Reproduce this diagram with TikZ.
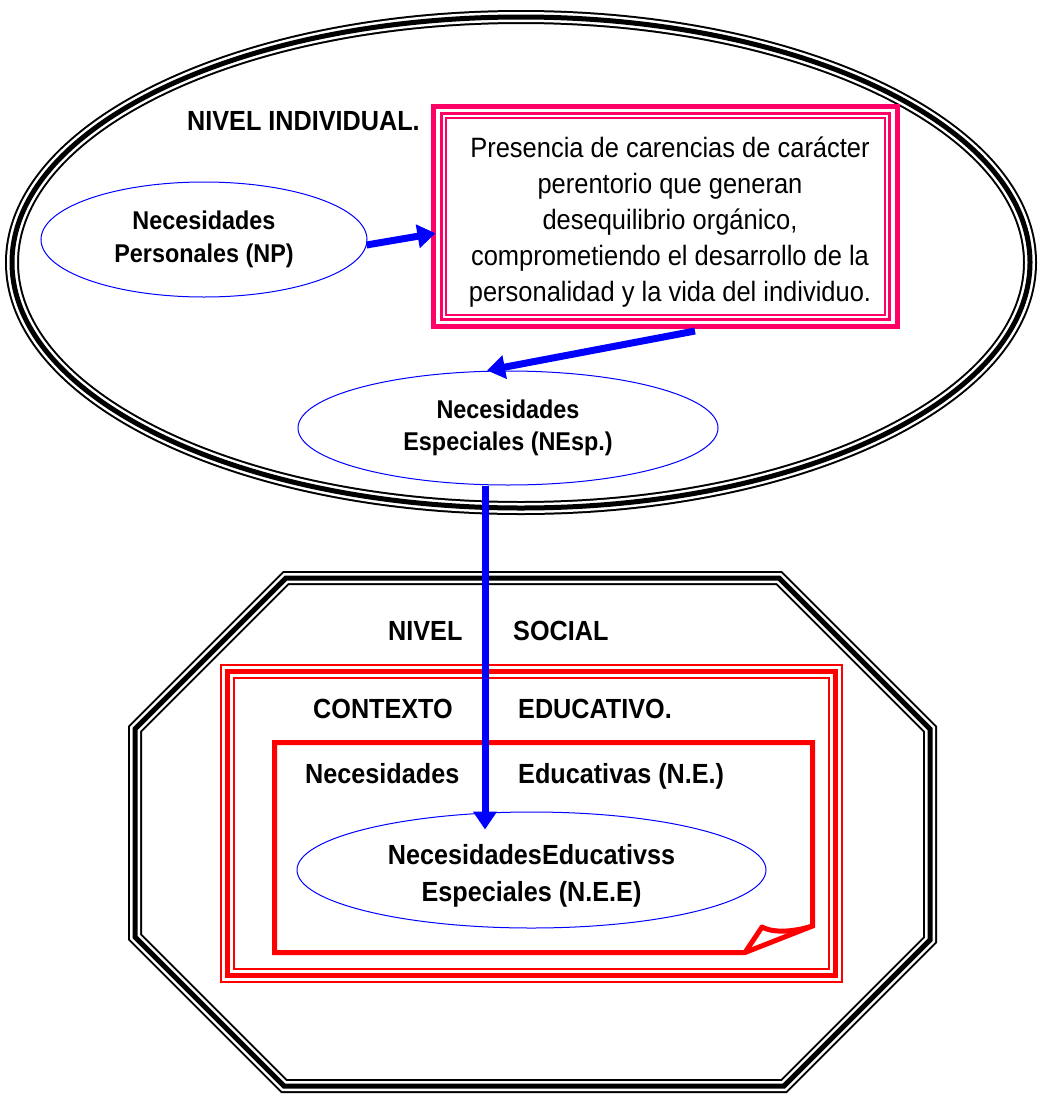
\documentclass[tikz,border=0pt]{standalone}
\usepackage{fontspec}
\setmainfont{Liberation Sans}[FakeStretch=0.91]
\usetikzlibrary{shapes.geometric,arrows.meta}
\definecolor{mag}{RGB}{255,0,102}
\definecolor{nblue}{RGB}{0,0,255}
\definecolor{nred}{RGB}{255,0,0}
\begin{document}
\begin{tikzpicture}[x=1pt,y=-1pt,
  tripleblack/.style={draw=black,line width=14pt,line join=miter,
    postaction={draw=white,line width=10pt},
    postaction={draw=black,line width=5pt}},
  triplered/.style={draw=nred,line width=15pt,line join=miter,
    postaction={draw=white,line width=11pt},
    postaction={draw=nred,line width=5.5pt}},
  blueell/.style={ellipse,draw=nblue,line width=1pt,align=center,inner sep=0pt},
  lbl/.style={inner sep=0pt,anchor=base west,font=\bfseries\fontsize{27.7}{33}\selectfont},
  arr/.style={draw=nblue,line width=7pt,-{Triangle[length=18pt,width=23pt]}}]
\useasboundingbox (0,0) rectangle (1037,1095);
% big ellipse (individual level)
\node[ellipse,tripleblack,minimum width=1018pt,minimum height=491pt,inner sep=0pt] (indiv) at (521,262.5) {};
% octagon (social level)
\draw[tripleblack] (286,578) -- (779,578) -- (930,729) -- (930,940) -- (784,1086) -- (284,1086) -- (135,937) -- (135,729) -- cycle;
% magenta box
\node[draw=mag,line width=5pt,minimum width=464pt,minimum height=219.5pt,inner sep=0pt,outer sep=0pt] (box) at (665.5,216.25) {};
\draw[mag,line width=3pt] ([shift={(8pt,-6.5pt)}]box.north west) rectangle ([shift={(-8pt,7pt)}]box.south east);
\draw[mag,line width=2pt] ([shift={(12.5pt,-11.5pt)}]box.north west) rectangle ([shift={(-12.5pt,11.5pt)}]box.south east);
\node[inner sep=0pt,align=center,font=\fontsize{28}{36}\selectfont] (boxtext) at (670,221.7)
  {Presencia de carencias de carácter\\perentorio que generan\\desequilibrio orgánico,\\comprometiendo el desarrollo de la\\personalidad y la vida del individuo.};
% educational context box
\node[rectangle,triplered,minimum width=608pt,minimum height=304pt,inner sep=0pt,outer sep=0pt] (ctx) at (531.5,823.5) {};
% needs box with folded corner
\draw[nred,line width=5pt,line join=miter] (274.5,742.5) -- (812.5,742.5) -- (812.5,926) -- (745,952.5) -- (274.5,952.5) -- cycle;
\draw[nred,line width=5pt,line join=round] (745,952.5) -- (762,927) .. controls (775,934) and (797,931) .. (812.5,926);
% ellipses
\node[blueell,minimum width=326pt,minimum height=115pt,font=\bfseries\fontsize{25.7}{33}\selectfont] (np) at (204,239.5) {Necesidades\\Personales (NP)};
\node[blueell,minimum width=420pt,minimum height=114pt,font=\bfseries\fontsize{25.7}{32}\selectfont] (nesp) at (508,428) {Necesidades\\Especiales (NEsp.)};
\node[blueell,minimum width=469pt,minimum height=116pt,font=\bfseries\fontsize{27.7}{37}\selectfont] (nee) at (531.5,870) {\rule{0pt}{31pt}NecesidadesEducativss\\Especiales (N.E.E)};
% labels
\node[lbl] (lind) at (187,130) {NIVEL INDIVIDUAL.};
\node[lbl] (lniv) at (388,640) {NIVEL};
\node[lbl] (lsoc) at (513,640) {SOCIAL};
\node[lbl] (lcon) at (313,718) {CONTEXTO};
\node[lbl] (ledu) at (518,718) {EDUCATIVO.};
\node[lbl] (lnec) at (305,783) {Necesidades};
\node[lbl] (lned) at (518,783) {Educativas (N.E.)};
% connectors
\coordinate (a1s) at ([shift={(-1pt,-5.5pt)}]np.east);
\coordinate (a1e) at ([shift={(2pt,-17pt)}]box.west);
\coordinate (a2s) at ([shift={(29.5pt,-5pt)}]box.south);
\coordinate (a2e) at ([shift={(-21pt,0pt)}]nesp.north);
\coordinate (a3s) at ([shift={(-23pt,0pt)}]nesp.south);
\coordinate (a3e) at ([shift={(-46.5pt,-18pt)}]nee.north);
\draw[arr] (a1s) -- (a1e);
\draw[arr] (a2s) -- (a2e);
\draw[arr] (a3s) -- (a3e);
\end{tikzpicture}
\end{document}
